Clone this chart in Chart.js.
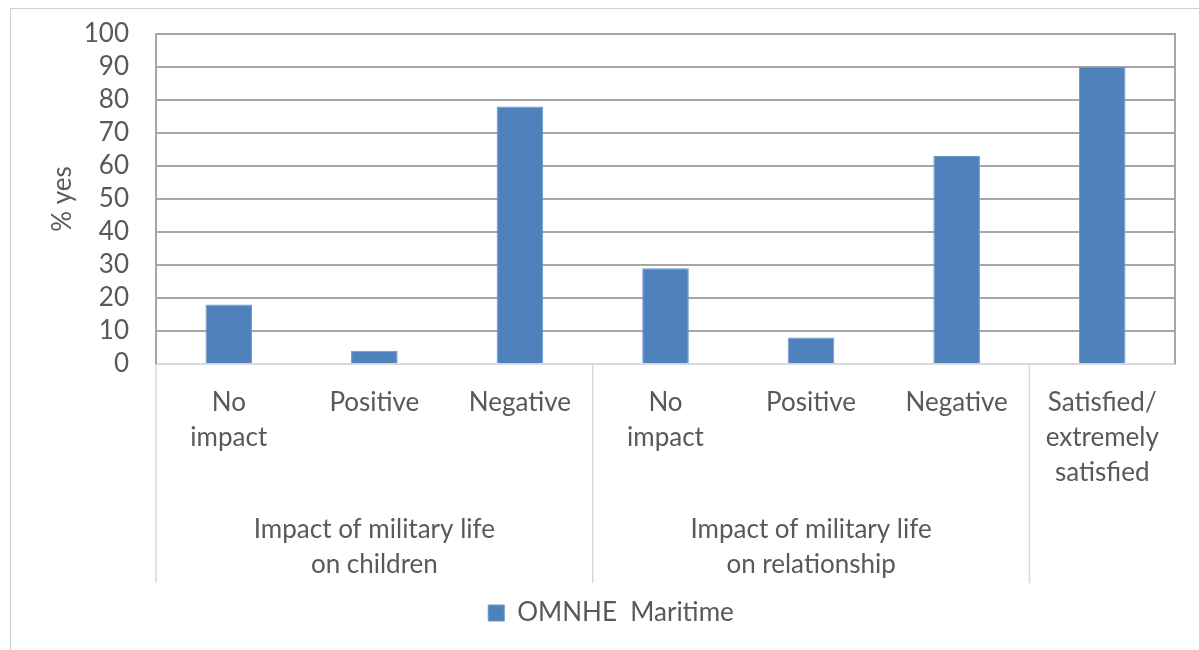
<!DOCTYPE html>
<html>
<head>
<meta charset="utf-8">
<script src="https://cdn.jsdelivr.net/npm/chart.js@4/dist/chart.umd.min.js"></script>
<style>
  html, body { margin: 0; padding: 0; background: #fff; }
  #wrap { position: relative; width: 1199px; height: 650px; }
  #frame { position: absolute; left: 10px; top: 8px; right: 0; bottom: 0; border-left: 1px solid #d0d0d0; border-top: 1px solid #d0d0d0; pointer-events: none; }
  canvas { position: absolute; left: 0; top: 0; }
</style>
</head>
<body>
<div id="wrap">
  <canvas id="c" width="1199" height="650"></canvas>
  <div id="frame"></div>
</div>
<script>
const categories = [
  ["No", "impact"], "Positive", "Negative",
  ["No", "impact"], "Positive", "Negative",
  ["Satisfied/", "extremely", "satisfied"]
];
const groupLabels = [
  ["Impact of military life", "on children"],
  ["Impact of military life", "on relationship"],
  [""]
];
const groupSizes = [3, 3, 1];
const seriesName = "OMNHE  Maritime";
const seriesValues = [18, 4, 78, 29, 8, 63, 90];
const yTicks = [0, 10, 20, 30, 40, 50, 60, 70, 80, 90, 100];

const FONT = "Lato, 'Open Sans', sans-serif";
const TEXT = "#595959";

const groupPlugin = {
  id: "groups",
  afterDraw(chart) {
    const ctx = chart.ctx;
    const x = chart.scales.x;
    const area = chart.chartArea;
    const half = (x.getPixelForValue(1) - x.getPixelForValue(0)) / 2;
    ctx.save();
    ctx.strokeStyle = "#a6a6a6";
    ctx.lineWidth = 2;
    ctx.beginPath();
    ctx.moveTo(area.right, area.top - 1);
    ctx.lineTo(area.right, area.bottom);
    ctx.stroke();
    ctx.strokeStyle = "#d9d9d9";
    ctx.lineWidth = 1.5;
    let start = 0;
    const bounds = [0];
    groupSizes.forEach(s => { start += s; bounds.push(start); });
    bounds.slice(0, -1).forEach(b => {
      const px = x.getPixelForValue(b) - half;
      ctx.beginPath();
      ctx.moveTo(px, area.bottom);
      ctx.lineTo(px, area.bottom + 219);
      ctx.stroke();
    });
    ctx.fillStyle = TEXT;
    ctx.font = "26px " + FONT;
    ctx.textAlign = "center";
    ctx.textBaseline = "middle";
    for (let g = 0; g < groupSizes.length; g++) {
      const l = x.getPixelForValue(bounds[g]) - half;
      const r = x.getPixelForValue(bounds[g + 1] - 1) + half;
      const cx = (l + r) / 2;
      groupLabels[g].forEach((line, i) => {
        ctx.fillText(line, cx, area.bottom + 166 + i * 35);
      });
    }
    ctx.restore();
  }
};

new Chart(document.getElementById("c"), {
  type: "bar",
  data: {
    labels: categories,
    datasets: [{
      label: seriesName,
      data: seriesValues,
      backgroundColor: "#4f81bd",
      borderColor: "#6b96c9",
      borderWidth: 1,
      barPercentage: 0.32,
      categoryPercentage: 1.0
    }]
  },
  options: {
    responsive: false,
    animation: false,
    layout: { padding: { top: 34, right: 24, left: 47, bottom: 14 } },
    plugins: {
      legend: {
        position: "bottom",
        labels: {
          color: TEXT,
          font: { family: FONT, size: 26 },
          boxWidth: 16,
          boxHeight: 16,
          padding: 8
        }
      },
      tooltip: { enabled: false }
    },
    scales: {
      x: {
        grid: { display: false, drawTicks: false },
        border: { display: true, color: "#d9d9d9", width: 2 },
        ticks: {
          color: TEXT,
          font: { family: FONT, size: 26, lineHeight: 1.35 },
          padding: 21,
          maxRotation: 0,
          autoSkip: false
        },
        afterFit(scale) { scale.height = 228; }
      },
      y: {
        min: 0,
        max: 100,
        afterBuildTicks(scale) { scale.ticks = yTicks.map(v => ({ value: v })); },
        grid: {
          color: ctx => ctx.tick && ctx.tick.value === 0 ? "#d9d9d9" : "#a6a6a6",
          lineWidth: 2,
          drawTicks: false
        },
        border: { display: true, color: "#a6a6a6", width: 2 },
        ticks: {
          color: TEXT,
          font: { family: FONT, size: 26 },
          padding: 27,
          autoSkip: false
        },
        title: {
          display: true,
          text: "% yes",
          color: TEXT,
          font: { family: FONT, size: 26 },
          padding: { top: 0, bottom: 0 }
        },
        afterFit(scale) {
          scale.width = 109;
          scale.paddingTop = 0;
          scale.paddingBottom = 0;
        }
      }
    }
  },
  plugins: [groupPlugin]
});
</script>
</body>
</html>
